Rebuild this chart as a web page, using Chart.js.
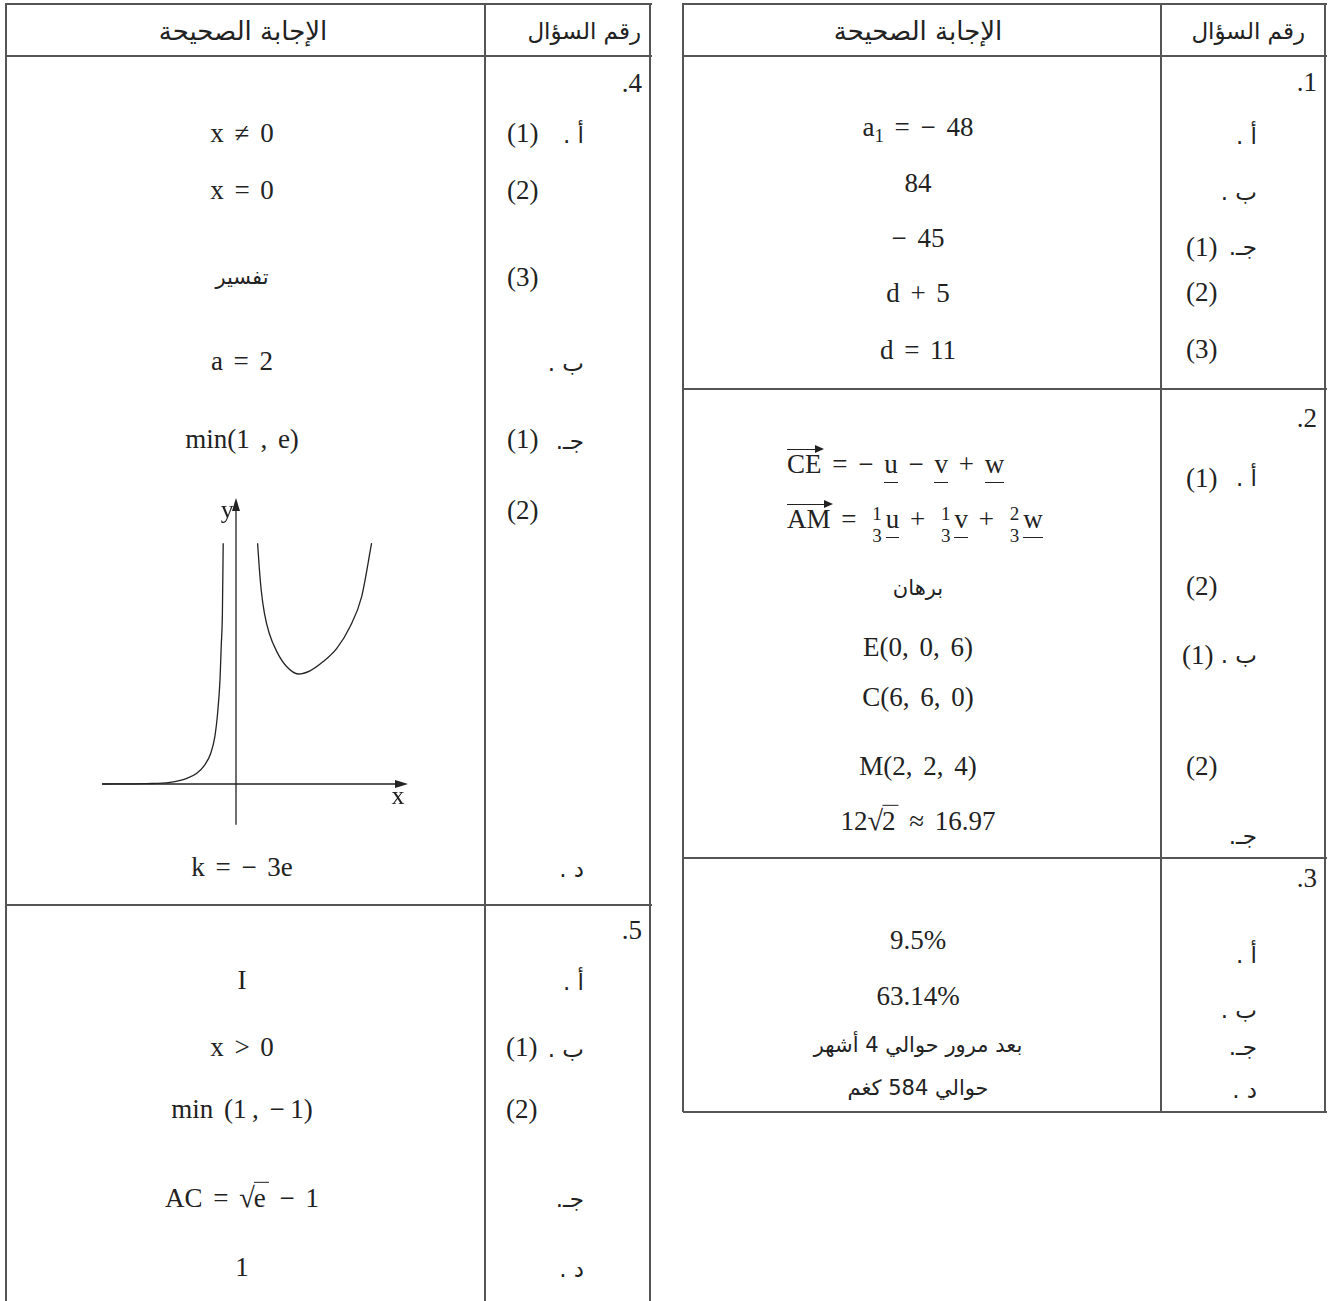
<!DOCTYPE html>
<html lang="en">
<head>
<meta charset="utf-8">
<script src="https://cdn.jsdelivr.net/npm/chart.js@4.4.1/dist/chart.umd.min.js"></script>
<style>
  html,body{margin:0;padding:0;background:#fff;}
  #page{position:relative;width:1328px;height:1301px;overflow:hidden;background:#fff;
        font-family:"Liberation Serif",serif;color:#222;}
  .t{position:absolute;white-space:nowrap;line-height:1;}
  .m{font-family:"Liberation Serif",serif;font-size:27px;word-spacing:4px;}
  .ar{font-family:"DejaVu Sans",sans-serif;font-size:21px;word-spacing:0;}
  .lb{font-size:23px;}
  .hl{position:absolute;background:#555;height:2px;}
  .vl{position:absolute;background:#555;width:2px;}
  .vec{position:relative;display:inline-block;border-top:1.5px solid #222;padding-top:1px;line-height:1;word-spacing:0;}
  .vec::after{content:"";position:absolute;right:-2px;top:-5.5px;border-left:9px solid #222;
              border-top:4px solid transparent;border-bottom:4px solid transparent;}
  .ul{display:inline-block;border-bottom:1.5px solid #222;line-height:1;padding-bottom:4px;}
  .frac{display:inline-block;vertical-align:middle;text-align:center;margin:0 4px 0 5px;position:relative;top:3px;
        font-size:19px;line-height:22px;}
  .rad{display:inline-block;font-size:1.05em;margin-right:-1px;}
  .ov{display:inline-block;border-top:1.5px solid #222;padding-top:2px;line-height:1;padding-right:3px;}
  sub{font-size:0.7em;vertical-align:-0.35em;line-height:0;}
  #graphWrap{position:absolute;}
</style>
</head>
<body>
<div id="page"></div>
<script>
// ---------------- DATA ----------------
const headerAnswer = 'الإجابة الصحيحة';
const headerQuestion = 'رقم السؤال';

// Question 1
const q1Number = '.1';
const q1Letters = ['أ .', 'ب .', 'جـ.', '', ''];
const q1Parts = ['', '', '(1)', '(2)', '(3)'];
const q1Answers = ['a<sub>1</sub> = − 48', '84', '− 45', 'd + 5', 'd = 11'];

// Question 2
const q2Number = '.2';
const q2Letters = ['أ .', '', '', 'ب .', '', '', 'جـ.'];
const q2Parts = ['(1)', '', '(2)', '(1)', '', '(2)', ''];
const q2Answers = [
  '<span class="vec">CE</span> = − <span class="ul">u</span> − <span class="ul">v</span> + <span class="ul">w</span>',
  '<span class="vec">AM</span> = <span class="frac">1<br>3</span><span class="ul">u</span> + <span class="frac">1<br>3</span><span class="ul">v</span> + <span class="frac">2<br>3</span><span class="ul">w</span>',
  'برهان',
  'E(0, 0, 6)',
  'C(6, 6, 0)',
  'M(2, 2, 4)',
  '12<span class="rad">√</span><span class="ov">2</span> ≈ 16.97'
];

// Question 3
const q3Number = '.3';
const q3Letters = ['أ .', 'ب .', 'جـ.', 'د .'];
const q3Answers = ['9.5%', '63.14%', 'بعد مرور حوالي 4 أشهر', 'حوالي 584 كغم'];

// Question 4
const q4Number = '.4';
const q4Letters = ['أ .', '', '', 'ب .', 'جـ.', '', 'د .'];
const q4Parts = ['(1)', '(2)', '(3)', '', '(1)', '(2)', ''];
const q4Answers = ['x ≠ 0', 'x = 0', 'تفسير', 'a = 2', 'min(1 , e)', '', 'k = − 3e'];

// Question 5
const q5Number = '.5';
const q5Letters = ['أ .', 'ب .', '', 'جـ.', 'د .'];
const q5Parts = ['', '(1)', '(2)', '', ''];
const q5Answers = ['I', 'x &gt; 0', 'min (1\u2009, −\u20091)', 'AC = <span class="rad">√</span><span class="ov">e</span> − 1', '1'];

// Sketch of the curve
const leftBranchX  = [-3.34, -2.23, -1.65, -1.23, -0.98, -0.78, -0.63, -0.53, -0.46, -0.40, -0.37, -0.34, -0.32];
const leftBranchY  = [ 0.00,  0.01,  0.04,  0.14,  0.27,  0.48,  0.77,  1.18,  1.77,  2.60,  3.43,  4.27,  6.02];
const rightBranchX = [0.54, 0.58, 0.63, 0.71, 0.83, 1.02, 1.27, 1.56, 1.85, 2.18, 2.52, 2.85, 3.14, 3.39];
const rightBranchY = [6.02, 5.43, 4.85, 4.27, 3.77, 3.31, 2.93, 2.75, 2.83, 3.06, 3.39, 3.93, 4.68, 6.02];
const axisLabels = ['x', 'y'];

// ---------------- LAYOUT ----------------
const page = document.getElementById('page');
function put(html, x, y, align, cls, extra) {
  const d = document.createElement('div');
  d.className = 't ' + (cls || '');
  d.innerHTML = html;
  d.style.left = x + 'px';
  d.style.top = y + 'px';
  const tx = align === 'center' ? '-50%' : (align === 'right' ? '-100%' : '0');
  d.style.transform = 'translate(' + tx + ',-50%)';
  if (extra) Object.assign(d.style, extra);
  page.appendChild(d);
  return d;
}
function hline(x1, x2, y) { const d = document.createElement('div'); d.className = 'hl';
  d.style.left = x1 + 'px'; d.style.width = (x2 - x1 + 2) + 'px'; d.style.top = (y - 1) + 'px'; page.appendChild(d); }
function vline(x, y1, y2) { const d = document.createElement('div'); d.className = 'vl';
  d.style.left = (x - 1) + 'px'; d.style.top = y1 + 'px'; d.style.height = (y2 - y1) + 'px'; page.appendChild(d); }
const isArabic = s => /[\u0600-\u06FF]/.test(s);
function answer(html, x, y, align) {
  if (isArabic(html)) put(html, x, y, align || 'center', 'ar', {direction:'rtl', unicodeBidi:'isolate'});
  else put(html, x, y, align || 'center', 'm', {direction:'ltr'});
}
function letter(s, xr, y) { if (s) put(s, xr, y, 'right', 'ar lb', {direction:'rtl', unicodeBidi:'isolate'}); }
function part(s, xl, y) { if (s) put(s, xl, y, 'left', 'm', {direction:'ltr'}); }

// ---- Left table (questions 4, 5) ----
const L = {x0: 6, xd: 485, x1: 650, top: 3, head: 56, split: 905, bottom: 1301};
vline(L.x0, L.top, L.bottom); vline(L.xd, L.top, L.bottom); vline(L.x1, L.top, L.bottom);
hline(L.x0, L.x1, L.top + 1); hline(L.x0, L.x1, L.head); hline(L.x0, L.x1, L.split);
put(headerAnswer, 243, 31, 'center', 'ar', {direction:'rtl', fontSize:'26px'});
put(headerQuestion, 641, 31, 'right', 'ar', {direction:'rtl', fontSize:'23px'});

const q4Y = [133, 190, 277, 361, 439, 510, 867];
put(q4Number, 642, 83, 'right', 'm');
q4Answers.forEach((a, i) => { if (a) answer(a, 242, q4Y[i]); });
q4Letters.forEach((s, i) => letter(s, 584, q4Y[i] + 2));
q4Parts.forEach((s, i) => part(s, 507, q4Y[i]));

const q5Y = [980, 1047, 1109, 1197, 1267];
put(q5Number, 642, 930, 'right', 'm');
q5Answers.forEach((a, i) => answer(a, 242, q5Y[i]));
q5Letters.forEach((s, i) => letter(s, 584, q5Y[i] + 2));
q5Parts.forEach((s, i) => part(s, 506, q5Y[i]));

// ---- Right table (questions 1, 2, 3) ----
const R = {x0: 683, xd: 1161, x1: 1325, top: 3, head: 56, s1: 389, s2: 858, bottom: 1112};
vline(R.x0, R.top, R.bottom); vline(R.xd, R.top, R.bottom); vline(R.x1, R.top, R.bottom);
hline(R.x0, R.x1, R.top + 1); hline(R.x0, R.x1, R.head); hline(R.x0, R.x1, R.s1); hline(R.x0, R.x1, R.s2); hline(R.x0, R.x1, R.bottom);
put(headerAnswer, 918, 31, 'center', 'ar', {direction:'rtl', fontSize:'26px'});
put(headerQuestion, 1305, 31, 'right', 'ar', {direction:'rtl', fontSize:'23px'});

const q1Y = [127, 183, 238, 293, 350];
const q1LY = [136, 192, 247, 292, 349];
put(q1Number, 1317, 82, 'right', 'm');
q1Answers.forEach((a, i) => answer(a, 918, q1Y[i]));
q1Letters.forEach((s, i) => letter(s, 1257, q1LY[i]));
q1Parts.forEach((s, i) => part(s, 1186, q1LY[i]));

const q2Y = [466, 522, 588, 647, 697, 766, 820];
const q2LY = [478, 522, 586, 655, 697, 766, 836];
put(q2Number, 1317, 418, 'right', 'm');
q2Answers.forEach((a, i) => answer(a, i < 2 ? 787 : 918, q2Y[i], i < 2 ? 'left' : 'center'));
q2Letters.forEach((s, i) => letter(s, 1257, q2LY[i]));
q2Parts.forEach((s, i) => part(s, i === 3 ? 1182 : 1186, q2LY[i]));

const q3Y = [940, 996, 1045, 1088];
const q3LY = [955, 1010, 1047, 1090];
put(q3Number, 1317, 878, 'right', 'm');
q3Answers.forEach((a, i) => answer(a, 918, q3Y[i]));
q3Letters.forEach((s, i) => letter(s, 1257, q3LY[i]));

// ---- Sketch drawn with Chart.js ----
const PX = 40;                       // pixels per unit of the sketch
const origin = {x: 236, y: 784};     // where the axes cross on the page
const xr = [-3.6, 4.6], yr = [-1.3, 7.4];
const wrap = document.createElement('div');
wrap.id = 'graphWrap';
wrap.style.left = (origin.x + xr[0] * PX) + 'px';
wrap.style.top = (origin.y - yr[1] * PX) + 'px';
wrap.style.width = ((xr[1] - xr[0]) * PX) + 'px';
wrap.style.height = ((yr[1] - yr[0]) * PX) + 'px';
const cv = document.createElement('canvas');
wrap.appendChild(cv);
page.appendChild(wrap);

const toPts = (xs, ys) => xs.map((x, i) => ({x, y: ys[i]}));
const axesPlugin = {
  id: 'axesPlugin',
  beforeDatasetsDraw(chart) {
    const {ctx, scales: {x, y}} = chart;
    ctx.save();
    ctx.strokeStyle = '#222'; ctx.fillStyle = '#222'; ctx.lineWidth = 1.3;
    const x0 = x.getPixelForValue(0), y0 = y.getPixelForValue(0);
    const xa = x.getPixelForValue(-3.35), xb = x.getPixelForValue(4.3);
    const ya = y.getPixelForValue(-1.02), yb = y.getPixelForValue(7.15);
    ctx.beginPath(); ctx.moveTo(xa, y0); ctx.lineTo(xb - 4, y0); ctx.stroke();
    ctx.beginPath(); ctx.moveTo(x0, ya); ctx.lineTo(x0, yb + 4); ctx.stroke();
    ctx.beginPath(); ctx.moveTo(xb, y0); ctx.lineTo(xb - 13, y0 - 4); ctx.lineTo(xb - 13, y0 + 4); ctx.closePath(); ctx.fill();
    ctx.beginPath(); ctx.moveTo(x0, yb); ctx.lineTo(x0 - 4, yb + 13); ctx.lineTo(x0 + 4, yb + 13); ctx.closePath(); ctx.fill();
    ctx.font = '26px "Liberation Serif", serif';
    ctx.textAlign = 'center'; ctx.textBaseline = 'middle';
    ctx.fillText(axisLabels[0], x.getPixelForValue(4.05), y.getPixelForValue(-0.33));
    ctx.fillText(axisLabels[1], x.getPixelForValue(-0.22), y.getPixelForValue(6.83));
    ctx.restore();
  }
};

new Chart(cv, {
  type: 'scatter',
  data: {
    datasets: [
      {data: toPts(leftBranchX, leftBranchY), showLine: true, borderColor: '#222', borderWidth: 1.3,
       pointRadius: 0, cubicInterpolationMode: 'monotone', fill: false},
      {data: toPts(rightBranchX, rightBranchY), showLine: true, borderColor: '#222', borderWidth: 1.3,
       pointRadius: 0, cubicInterpolationMode: 'monotone', fill: false}
    ]
  },
  options: {
    responsive: true, maintainAspectRatio: false, animation: false,
    layout: {padding: 0},
    plugins: {legend: {display: false}, tooltip: {enabled: false}},
    scales: {
      x: {type: 'linear', min: xr[0], max: xr[1], display: false},
      y: {type: 'linear', min: yr[0], max: yr[1], display: false}
    }
  },
  plugins: [axesPlugin]
});
</script>
</body>
</html>
